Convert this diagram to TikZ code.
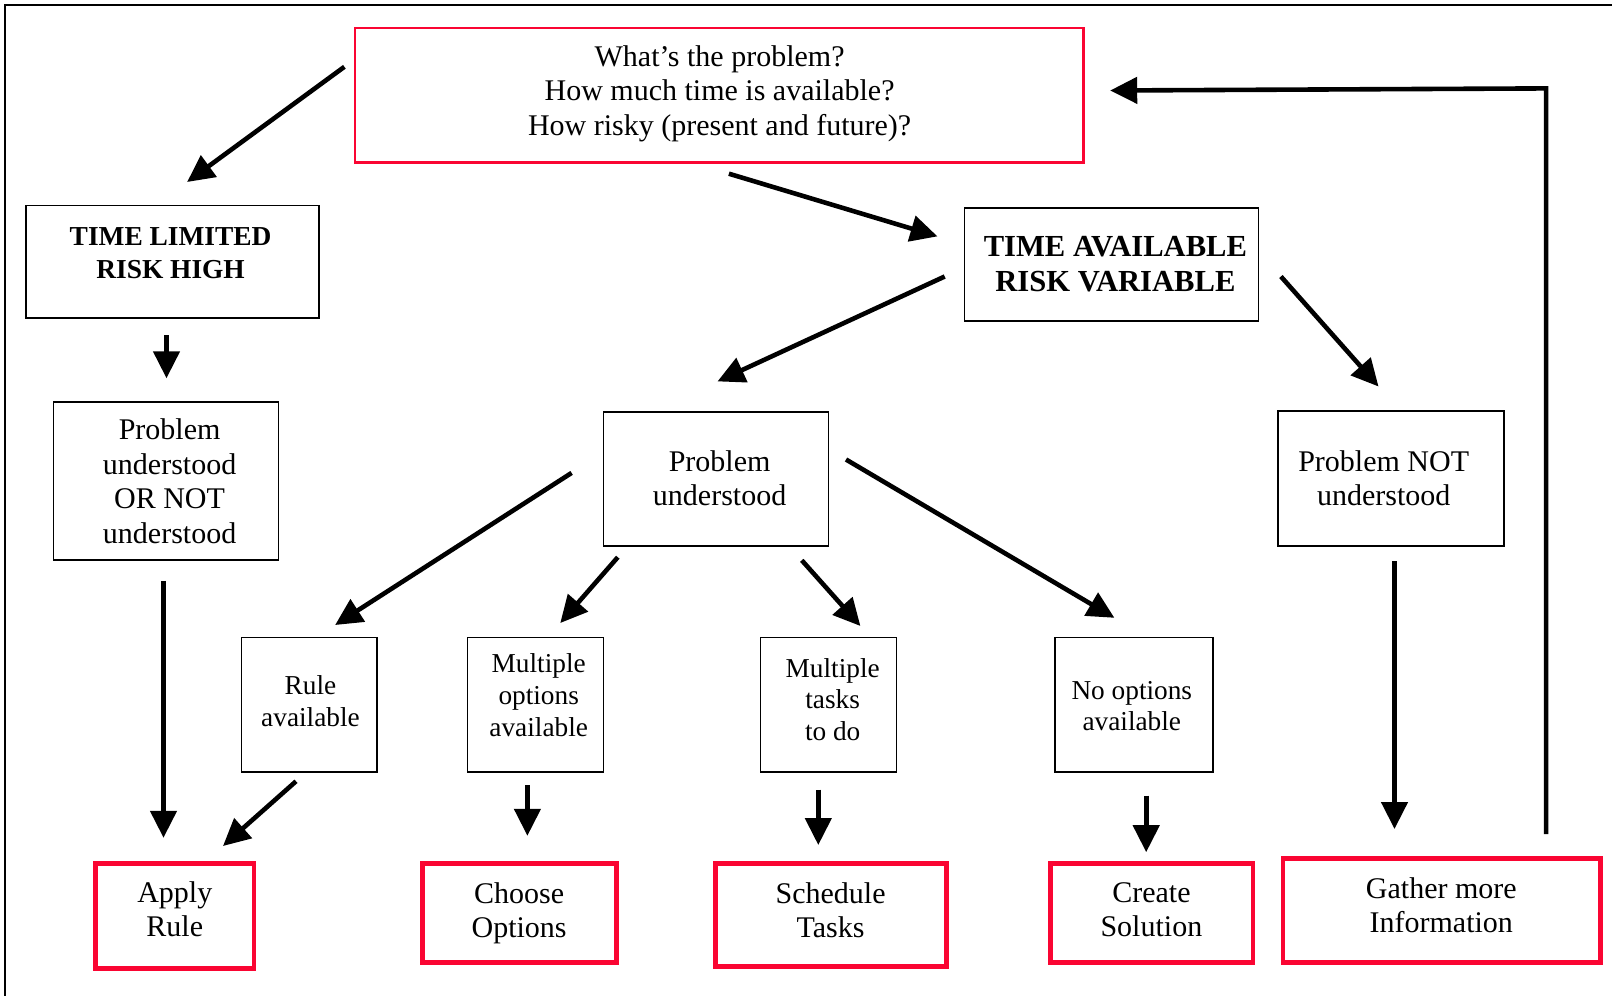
\documentclass[tikz,border=0pt]{standalone}
\usepackage{fontspec}
\setmainfont{Liberation Serif}
\usetikzlibrary{arrows.meta}
\definecolor{boxred}{RGB}{250,5,50}
\begin{document}
\begin{tikzpicture}[x=1pt,y=-1pt,
  bbox/.style={draw=black, line width=1.6pt, inner sep=0pt, rectangle},
  redthin/.style={draw=boxred, line width=2.4pt, inner sep=0pt, rectangle},
  redbox/.style={draw=boxred, line width=4.6pt, inner sep=0pt, rectangle},
  tbig/.style={align=center, inner sep=0pt, font=\fontsize{30pt}{34.4pt}\selectfont},
  tsmall/.style={align=center, inner sep=0pt, font=\fontsize{27.3pt}{31.8pt}\selectfont},
  tboldA/.style={align=center, inner sep=0pt, font=\fontsize{27.4pt}{33pt}\selectfont\bfseries},
  tboldB/.style={align=center, inner sep=0pt, font=\fontsize{30.6pt}{34.5pt}\selectfont\bfseries},
  arr/.style={line width=4.6pt, -{Triangle[length=27pt,width=26pt]}},
]
\useasboundingbox (0,0) rectangle (1612,996);

% frame (top and left edges)
\coordinate (fA) at (5,996);
\coordinate (fB) at (5,5);
\coordinate (fC) at (1612,5);
\draw[line width=1.8pt] (fA) -- (fB) -- (fC);

% boxes
\node[redthin, minimum width=728.8pt, minimum height=134.6pt] (top) at (719.1,95.1) {};
\node[bbox, minimum width=293pt, minimum height=112.1pt] (tl) at (172.2,261.7) {};
\node[bbox, minimum width=294pt, minimum height=113pt] (ta) at (1111.3,264.2) {};
\node[bbox, minimum width=225.1pt, minimum height=158.3pt] (pun) at (166,481.1) {};
\node[bbox, minimum width=225.2pt, minimum height=133.7pt] (pu) at (716,479) {};
\node[bbox, minimum width=226.2pt, minimum height=134.7pt] (pnu) at (1390.9,478.5) {};
\node[bbox, minimum width=135.7pt, minimum height=134.6pt] (ra) at (309.4,704.7) {};
\node[bbox, minimum width=135.7pt, minimum height=134.6pt] (mo) at (535.5,704.7) {};
\node[bbox, minimum width=135.7pt, minimum height=134.6pt] (mt) at (828.5,704.7) {};
\node[bbox, minimum width=158.3pt, minimum height=134.6pt] (no) at (1133.9,704.7) {};
\node[redbox, minimum width=158.3pt, minimum height=104.9pt] (ar) at (174.7,916) {};
\node[redbox, minimum width=194.3pt, minimum height=98.7pt] (co) at (519.6,912.9) {};
\node[redbox, minimum width=231.3pt, minimum height=102.8pt] (st) at (831.1,914.9) {};
\node[redbox, minimum width=202.5pt, minimum height=98.7pt] (cs) at (1151.9,912.9) {};
\node[redbox, minimum width=317.6pt, minimum height=103.8pt] (gi) at (1441.8,910.3) {};

% texts
\node[tbig] (topt) at (719.6,93.5) {What’s the problem?\\How much time is available?\\How risky (present and future)?};
\node[tboldA] (tlt) at (170.6,253.5) {TIME LIMITED\\RISK HIGH};
\node[tboldB] (tat) at (1115.4,264) {TIME AVAILABLE\\RISK VARIABLE};
\node[tbig] (punt) at (169.6,481.2) {Problem\\understood\\OR NOT\\understood};
\node[tbig] (put) at (719.6,478.5) {Problem\\understood};
\node[tbig] (pnut) at (1383.7,478.5) {Problem NOT\\understood};
\node[tsmall] (rat) at (310.5,701) {Rule\\available};
\node[tsmall] (mot) at (538.7,695) {Multiple\\options\\available};
\node[tsmall] (mtt) at (832.7,699.5) {Multiple\\tasks\\to do};
\node[tsmall] (not) at (1131.8,706) {No options\\available};
\node[tbig] (art) at (174.8,909.5) {Apply\\Rule};
\node[tbig] (cot) at (519.1,913) {Choose\\Options};
\node[tbig] (stt) at (830.6,910) {Schedule\\Tasks};
\node[tbig] (cst) at (1151.4,910) {Create\\Solution};
\node[tbig] (git) at (1441.3,905.2) {Gather more\\Information};

% arrow end points
\coordinate (a1s) at (344.4,66.8);   \coordinate (a1e) at (187.1,182);
\coordinate (a2s) at (728.9,173.7);  \coordinate (a2e) at (937.5,236.4);
\coordinate (a4s) at (944.7,276.5);  \coordinate (a4e) at (717.5,381.4);
\coordinate (a5s) at (1280.9,276.5); \coordinate (a5e) at (1378.5,386.5);
\coordinate (a6s) at (166.5,335.1);  \coordinate (a6e) at (166.5,378.3);
\coordinate (a7s) at (571.6,472.9);  \coordinate (a7e) at (335.1,625);
\coordinate (a8s) at (617.8,557.2);  \coordinate (a8e) at (560.3,623);
\coordinate (a9s) at (801.8,560.3);  \coordinate (a9e) at (860.4,626);
\coordinate (a10s) at (846,459.5);   \coordinate (a10e) at (1114.4,617.8);
\coordinate (a11s) at (1394.5,561.3);\coordinate (a11e) at (1394.5,829);
\coordinate (a12s) at (163.5,580.8); \coordinate (a12e) at (163.5,837.8);
\coordinate (a13s) at (296,781.3);   \coordinate (a13e) at (223,846);
\coordinate (a14s) at (527.4,785.4); \coordinate (a14e) at (527.4,835.8);
\coordinate (a15s) at (818.3,789.5); \coordinate (a15e) at (818.3,845);
\coordinate (a16s) at (1146.2,795.7);\coordinate (a16e) at (1146.2,852.2);
\coordinate (fb1) at (1546.1,834);
\coordinate (fb2) at (1546.1,88.4);
\coordinate (fb3) at (1110.2,90.5);

% arrows
\draw[arr] (a1s) -- (a1e);
\draw[arr] (a2s) -- (a2e);
\draw[arr] (a4s) -- (a4e);
\draw[arr] (a5s) -- (a5e);
\draw[arr] (a6s) -- (a6e);
\draw[arr] (a7s) -- (a7e);
\draw[arr] (a8s) -- (a8e);
\draw[arr] (a9s) -- (a9e);
\draw[arr] (a10s) -- (a10e);
\draw[arr] (a11s) -- (a11e);
\draw[arr] (a12s) -- (a12e);
\draw[arr] (a13s) -- (a13e);
\draw[arr] (a14s) -- (a14e);
\draw[arr] (a15s) -- (a15e);
\draw[arr] (a16s) -- (a16e);
\draw[arr, line join=miter] (fb1) -- (fb2) -- (fb3);
\end{tikzpicture}
\end{document}
